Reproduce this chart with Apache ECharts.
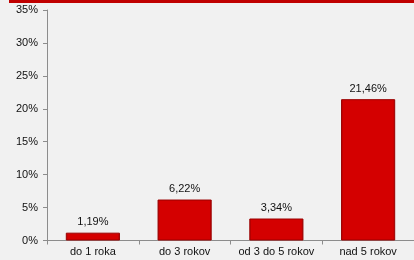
<!DOCTYPE html>
<html><head><meta charset="utf-8">
<script src="https://cdn.jsdelivr.net/npm/echarts@6/dist/echarts.min.js"></script>
<style>html,body{margin:0;padding:0;background:#f1f1f1;}#c{width:414px;height:260px;}</style>
</head><body><div id="c"></div>
<script>
const categories = ['do 1 roka', 'do 3 rokov', 'od 3 do 5 rokov', 'nad 5 rokov'];
const values = [1.19, 6.22, 3.34, 21.46];
const yTicks = [0, 5, 10, 15, 20, 25, 30, 35];

const chart = echarts.init(document.getElementById('c'), null, {renderer: 'canvas'});
chart.setOption({
  backgroundColor: '#f1f1f1',
  animation: false,
  graphic: [{type: 'rect', left: 9, top: 0, shape: {width: 405, height: 3}, style: {fill: '#c00000'}}],
  grid: {left: 47, right: -3, top: 10, bottom: 19.5},
  xAxis: {
    type: 'category', data: categories,
    axisLine: {lineStyle: {color: '#8c8c8c'}},
    axisTick: {show: true, length: 4, lineStyle: {color: '#8c8c8c'}},
    axisLabel: {interval: 0, color: '#111', fontFamily: 'Liberation Sans, Arial', fontSize: 11, margin: 6}
  },
  yAxis: {
    type: 'value', min: yTicks[0], max: yTicks[yTicks.length - 1], interval: 5,
    axisLine: {show: true, lineStyle: {color: '#8c8c8c'}},
    axisTick: {show: true, length: 4, lineStyle: {color: '#8c8c8c'}},
    splitLine: {show: false},
    axisLabel: {color: '#111', fontFamily: 'Liberation Sans, Arial', fontSize: 11, margin: 9, formatter: v => v + '%'}
  },
  series: [{
    type: 'bar', data: values, barWidth: '59%',
    itemStyle: {
      color: new echarts.graphic.LinearGradient(0, 0, 1, 0, [
        {offset: 0, color: '#a80000'}, {offset: 0.04, color: '#d40000'},
        {offset: 0.96, color: '#d40000'}, {offset: 1, color: '#a80000'}]),
      borderColor: '#9a0000', borderWidth: 1
    },
    label: {show: true, position: 'top', distance: 5, color: '#111', fontFamily: 'Liberation Sans, Arial', fontSize: 11,
      formatter: p => p.value.toFixed(2).replace('.', ',') + '%'}
  }]
});
</script></body></html>
